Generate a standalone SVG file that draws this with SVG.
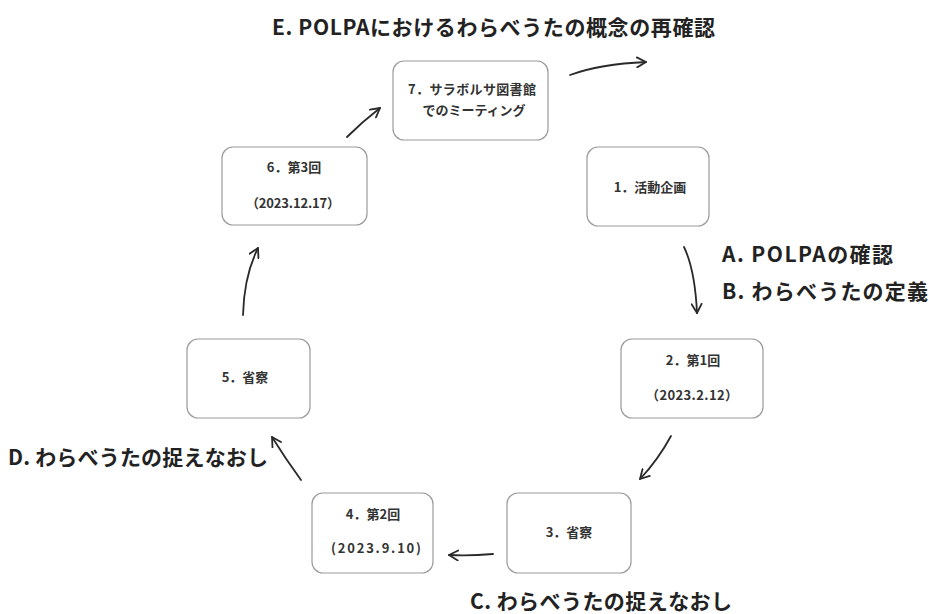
<svg xmlns="http://www.w3.org/2000/svg" width="929" height="614" viewBox="0 0 929 614">
<style>
.box{fill:#fff;stroke:#9a9a9a;stroke-width:1.2}
.nt{font-family:"Noto Sans CJK JP","Noto Sans",sans-serif;font-size:13px;font-weight:bold;fill:#333;text-anchor:middle}
.lb{font-family:"Noto Sans CJK JP","Noto Sans",sans-serif;font-size:21px;font-weight:bold;fill:#222}
.ar{fill:none;stroke:#2a2a2a;stroke-width:1.8;stroke-linecap:round;marker-end:url(#ah)}
</style>
<defs>
<marker id="ah" viewBox="0 0 12 12" refX="10" refY="6" markerWidth="12" markerHeight="12" markerUnits="userSpaceOnUse" orient="auto">
<path d="M1,1 L10,6 L1,11" fill="none" stroke="#2a2a2a" stroke-width="1.8" stroke-linecap="round" stroke-linejoin="round"/>
</marker>
</defs>
<rect width="929" height="614" fill="#fff"/>
<g id="labels">
<text class="lb" x="272" y="35" textLength="443" lengthAdjust="spacing">E. POLPAにおけるわらべうたの概念の再確認</text>
<text class="lb" x="722" y="262" textLength="171" lengthAdjust="spacing">A.  POLPAの確認</text>
<text class="lb" x="722" y="299" textLength="206" lengthAdjust="spacing">B.  わらべうたの定義</text>
<text class="lb" x="8" y="465" textLength="260" lengthAdjust="spacing">D. わらべうたの捉えなおし</text>
<text class="lb" x="470" y="609" textLength="262" lengthAdjust="spacing">C. わらべうたの捉えなおし</text>
</g>
<g id="node7">
<rect class="box" x="393" y="61" width="155" height="79" rx="11"/>
<text class="nt" x="472" y="94" textLength="128" lengthAdjust="spacing">7．サラボルサ図書館</text>
<text class="nt" x="474" y="115">でのミーティング</text>
</g>
<g id="node6">
<rect class="box" x="222" y="147" width="145" height="78" rx="11"/>
<text class="nt" x="294" y="172">6．第3回</text>
<text class="nt" x="293" y="208" textLength="94" lengthAdjust="spacing">（2023.12.17）</text>
</g>
<g id="node1">
<rect class="box" x="587" y="147" width="122" height="79" rx="11"/>
<text class="nt" x="650" y="192">1．活動企画</text>
</g>
<g id="node2">
<rect class="box" x="621" y="339" width="142" height="79" rx="11"/>
<text class="nt" x="693" y="365">2．第1回</text>
<text class="nt" x="692" y="400" textLength="92" lengthAdjust="spacing">（2023.2.12）</text>
</g>
<g id="node5">
<rect class="box" x="187" y="339" width="123" height="79" rx="11"/>
<text class="nt" x="245" y="382">5．省察</text>
</g>
<g id="node4">
<rect class="box" x="312" y="493" width="121" height="80" rx="11"/>
<text class="nt" x="373" y="519">4．第2回</text>
<text class="nt" x="376" y="553" textLength="90" lengthAdjust="spacing">(2023.9.10)</text>
</g>
<g id="node3">
<rect class="box" x="507" y="493" width="124" height="80" rx="11"/>
<text class="nt" x="569" y="537">3．省察</text>
</g>
<g id="connectors">
<path class="ar" d="M570,75 Q600,64 646,62"/>
<path class="ar" d="M684,247 Q695,270 697,313"/>
<path class="ar" d="M671,436 Q658,460 640,479"/>
<path class="ar" d="M493,554 Q470,556 449,555"/>
<path class="ar" d="M301,480 Q285,458 272,437"/>
<path class="ar" d="M243,315 Q244,276 258,248"/>
<path class="ar" d="M347,137 Q362,122 380,108"/>
</g>
</svg>
